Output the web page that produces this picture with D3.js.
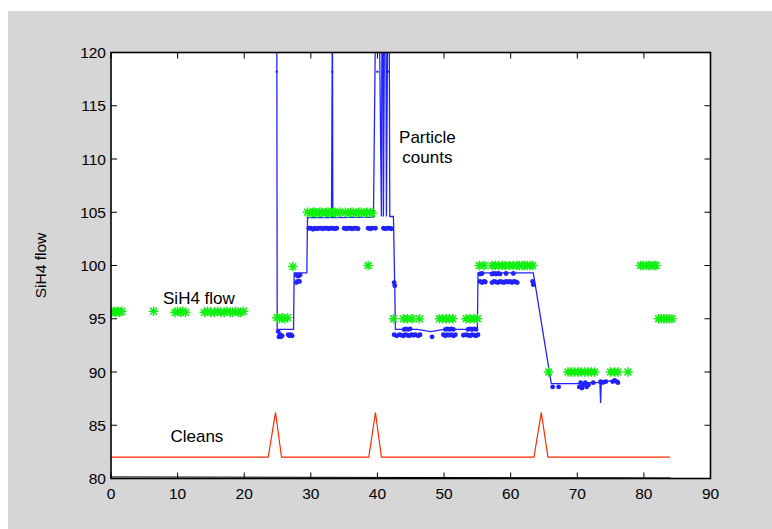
<!DOCTYPE html>
<html><head><meta charset="utf-8">
<script src="https://cdn.jsdelivr.net/npm/d3@7"></script>
<style>body{margin:0;background:#fff;}svg{display:block;font-family:"Liberation Sans",Arial,sans-serif;}</style>
</head><body>
<script>
// ---- data ----
const xTicks = [0,10,20,30,40,50,60,70,80,90];
const yTicks = [80,85,90,95,100,105,110,115,120];

// blue SiH4 flow trace (line)
const flowLine = [
 [24.9,140],[24.9,118.2],[24.95,94.0],[27.4,94.0],[27.5,99.3],[29.4,99.3],[29.5,104.5],
 [33.1,104.5],[33.2,118.2],[33.2,140],[33.3,104.5],[39.4,104.55],[40.0,140],[40.6,104.6],
 [40.75,140],[40.9,104.6],[41.2,140],[41.35,104.6],[41.7,140],[41.85,104.6],[42.4,104.6],
 [42.6,97.9],[42.7,94.0],[46.0,94.0],[48.0,93.8],[50.0,94.0],[55.0,94.0],[55.1,99.3],
 [63.4,99.3],[66.1,88.9],[70.5,88.9],[71.0,89.0],[73.4,89.0],[73.5,87.1],[73.6,89.1],[76.2,89.2]
];
// small markers on the spikes
const spikeDots = [[24.9,118.2],[33.2,118.2],[40.0,118.2],[40.9,118.2],[41.6,118.2]];
// blue sample dots
const flowDots = [
 [25.1,93.8],[25.2,93.3],[25.4,93.5],[25.5,93.3],[25.7,93.4],[26.6,93.5],[26.8,93.4],[27.0,93.5],[27.2,93.4],
 [27.8,99.1],[28.1,99.0],[28.4,99.1],[27.8,98.4],[28.0,98.5],[28.3,98.5],
 [29.7,103.5],[30.0,103.5],[30.3,103.4],[30.6,103.5],[30.9,103.45],[31.2,103.5],[31.5,103.5],[31.8,103.45],[32.1,103.5],
 [32.4,103.5],[32.7,103.45],[33.0,103.5],[33.3,103.5],[33.6,103.45],[33.9,103.5],
 [35.0,103.5],[35.3,103.45],[35.6,103.5],[35.9,103.5],[36.2,103.45],[36.5,103.5],[36.8,103.5],[37.1,103.45],
 [38.6,103.5],[38.9,103.45],[39.2,103.5],[39.7,103.5],[40.9,103.5],[41.2,103.45],[41.5,103.5],[41.8,103.5],[42.1,103.45],
 [42.5,98.4],[42.6,98.1],
 [42.5,93.5],[42.9,93.4],[43.3,93.5],[43.6,93.45],[43.9,93.4],[44.2,93.5],[44.5,93.45],[44.8,93.4],[45.1,93.5],[45.4,93.45],[45.7,93.5],[46.1,93.4],[46.4,93.5],
 [44.0,94.0],[44.3,94.05],[44.6,94.0],[44.9,94.05],[48.2,93.3],
 [49.9,93.5],[50.2,93.4],[50.5,93.5],[50.8,93.45],[51.1,93.5],[51.4,93.4],[51.7,93.5],[50.2,94.0],[50.5,94.05],[50.8,94.0],[51.1,94.05],[51.4,94.0],
 [52.9,93.45],[53.3,93.5],[53.6,93.45],[53.9,93.4],[54.2,93.5],[54.5,93.45],[54.8,93.4],[55.1,93.5],[53.6,94.0],[53.9,94.05],[54.2,94.0],[54.5,94.05],[54.8,94.0],
 [55.4,99.2],[55.7,99.25],[57.2,99.2],[57.5,99.25],[57.8,99.2],[58.1,99.25],[58.4,99.2],[59.3,99.25],[60.4,99.25],
 [55.4,98.5],[55.7,98.4],[56.0,98.5],[56.2,98.45],[57.2,98.4],[57.5,98.5],[57.8,98.45],[58.1,98.4],[58.4,98.5],[58.7,98.45],
 [59.0,98.4],[59.3,98.5],[59.6,98.45],[59.9,98.5],[60.2,98.4],[60.5,98.5],[60.8,98.45],[61.0,98.4],[63.3,98.5],[63.4,98.2],
 [66.3,88.6],[67.2,88.6],[70.3,88.6],[70.5,89.0],[70.7,88.5],[70.9,88.8],[71.2,89.0],[71.4,88.6],[71.7,88.8],[72.4,89.0],
 [73.5,89.1],[73.7,89.0],[74.0,89.05],[74.3,89.1],[75.3,89.1],[75.6,89.2],[75.9,89.1],[76.1,89.0]
];
// green particle-count stars
const stars = [
 [0.1,95.6],[0.4,95.7],[0.7,95.6],[1.0,95.7],[1.3,95.6],[1.6,95.7],[6.4,95.7],
 [9.6,95.6],[10.0,95.7],[10.4,95.6],[10.8,95.7],[11.2,95.6],
 [14.0,95.6],[14.5,95.7],[15.0,95.6],[15.5,95.6],[16.0,95.7],[16.5,95.6],[17.0,95.6],[17.4,95.7],[17.9,95.6],[18.3,95.6],[18.7,95.7],[19.1,95.6],[19.5,95.6],[19.9,95.7],
 [24.9,95.1],[25.3,95.0],[25.7,95.1],[26.1,95.0],[26.5,95.1],
 [27.3,99.9],[38.6,100.0],
 [29.5,105.0],[29.9,104.9],[30.3,105.0],[30.6,105.0],[30.9,104.9],[31.3,105.0],[31.6,105.0],[31.9,104.9],[32.3,105.0],[32.6,105.0],[32.9,104.9],[33.3,105.0],[33.6,105.0],[34.0,104.9],[34.4,105.0],
 [35.2,105.0],[35.6,104.9],[36.0,105.0],[36.4,105.0],[36.8,104.9],[37.2,105.0],[37.6,105.0],[38.0,104.9],[38.4,105.0],[38.9,105.0],[39.2,104.9],
 [42.4,95.0],[43.9,95.0],[44.5,95.0],[45.2,95.0],[46.3,95.0],
 [49.3,95.0],[49.8,95.0],[50.3,95.0],[50.8,95.0],[51.3,95.0],
 [53.3,95.0],[53.9,95.0],[54.5,95.0],[55.0,95.0],
 [55.3,100.0],[56.0,100.0],[57.2,100.0],[57.7,100.0],[58.2,100.0],[58.7,100.0],[59.2,100.0],[59.8,100.0],[60.4,100.0],[60.9,100.0],[61.3,100.0],[61.7,100.0],[62.1,100.0],[62.5,100.0],[62.9,100.0],[63.3,100.0],
 [65.7,90.0],[68.6,90.0],[69.1,90.0],[69.6,90.0],[70.1,90.0],[70.6,90.0],[71.1,90.0],[71.6,90.0],[72.1,90.0],[72.6,90.0],
 [75.0,90.0],[75.6,90.0],[76.1,90.0],[77.6,90.0],
 [79.5,100.0],[79.9,100.0],[80.3,100.0],[80.7,100.0],[81.1,100.0],[81.5,100.0],[81.8,100.0],
 [82.2,95.0],[82.6,95.0],[83.0,95.0],[83.4,95.0],[83.8,95.0],[84.2,95.0]
];
// red cleans trace
const cleans = [
 [0,82],[23.6,82],[24.7,86.2],[25.6,82],[38.7,82],[39.7,86.2],[40.6,82],
 [63.5,82],[64.6,86.2],[65.6,82],[83.9,82]
];
// faint black baseline trace
const baseTrace = [[0,80.15],[84,80.05]];

const labels = [
 {text:"Particle", x:47.5, y:111.5},
 {text:"counts", x:47.5, y:109.6},
 {text:"SiH4 flow", x:13.2, y:96.4},
 {text:"Cleans", x:12.9, y:83.4}
];

// ---- drawing ----
const W = 772, H = 529;
const svg = d3.select("body").append("svg").attr("width",W).attr("height",H);
svg.append("rect").attr("x",8).attr("y",11).attr("width",W-8).attr("height",H-11).attr("fill","#d6d6d6");

const x = d3.scaleLinear().domain([0,90]).range([111,710.5]);
const y = d3.scaleLinear().domain([80,120]).range([478.5,52.5]);

svg.append("rect").attr("x",x(0)).attr("y",y(120)).attr("width",x(90)-x(0)).attr("height",y(80)-y(120)).attr("fill","#fff");

svg.append("clipPath").attr("id","clip").append("rect")
 .attr("x",x(0)).attr("y",y(120)).attr("width",x(90)-x(0)).attr("height",y(80)-y(120));
const g = svg.append("g").attr("clip-path","url(#clip)");

const line = d3.line().x(d=>x(d[0])).y(d=>y(d[1]));

g.append("path").datum(baseTrace).attr("d",line).attr("fill","none").attr("stroke","#000").attr("stroke-width",1);
g.append("path").datum(cleans).attr("d",line).attr("fill","none").attr("stroke","#ff2a00").attr("stroke-width",1.2);
g.append("path").datum(flowLine).attr("d",line).attr("fill","none").attr("stroke","#2222ff").attr("stroke-width",1.3);
g.selectAll("circle.sdot").data(spikeDots).enter().append("circle")
 .attr("cx",d=>x(d[0])).attr("cy",d=>y(d[1])).attr("r",1.2).attr("fill","#2222ff");
g.selectAll("circle.dot").data(flowDots).enter().append("circle")
 .attr("cx",d=>x(d[0])).attr("cy",d=>y(d[1])).attr("r",2.4).attr("fill","#2222ff");

// star markers
const s = 4.8, sd = 3.4;
const starPath = `M${-s},0L${s},0M0,${-s}L0,${s}M${-sd},${-sd}L${sd},${sd}M${-sd},${sd}L${sd},${-sd}`;
g.selectAll("path.star").data(stars).enter().append("path")
 .attr("d",starPath).attr("transform",d=>`translate(${x(d[0])},${y(d[1])})`)
 .attr("stroke","#10f010").attr("stroke-width",1.5).attr("fill","none");

// axes
const ax = svg.append("g").attr("font-size",15.5).attr("fill","#000");
const tl = 6;
xTicks.forEach(t=>{
  ax.append("line").attr("x1",x(t)).attr("x2",x(t)).attr("y1",y(80)).attr("y2",y(80)-tl).attr("stroke","#000");
  ax.append("line").attr("x1",x(t)).attr("x2",x(t)).attr("y1",y(120)).attr("y2",y(120)+tl).attr("stroke","#000");
  ax.append("text").attr("x",x(t)).attr("y",y(80)+20).attr("text-anchor","middle").text(t);
});
yTicks.forEach(t=>{
  ax.append("line").attr("x1",x(0)).attr("x2",x(0)+tl).attr("y1",y(t)).attr("y2",y(t)).attr("stroke","#000");
  ax.append("line").attr("x1",x(90)).attr("x2",x(90)-tl).attr("y1",y(t)).attr("y2",y(t)).attr("stroke","#000");
  ax.append("text").attr("x",x(0)-5).attr("y",y(t)+5.5).attr("text-anchor","end").text(t);
});
ax.append("rect").attr("x",x(0)).attr("y",y(120)).attr("width",x(90)-x(0)).attr("height",y(80)-y(120))
 .attr("fill","none").attr("stroke","#000").attr("stroke-width",1.6);

svg.append("text").attr("transform",`translate(46,${(y(80)+y(120))/2}) rotate(-90)`)
 .attr("text-anchor","middle").attr("font-size",15.5).text("SiH4 flow");

svg.selectAll("text.lab").data(labels).enter().append("text")
 .attr("x",d=>x(d.x)).attr("y",d=>y(d.y)).attr("text-anchor","middle").attr("font-size",17).text(d=>d.text);
</script>
</body></html>
